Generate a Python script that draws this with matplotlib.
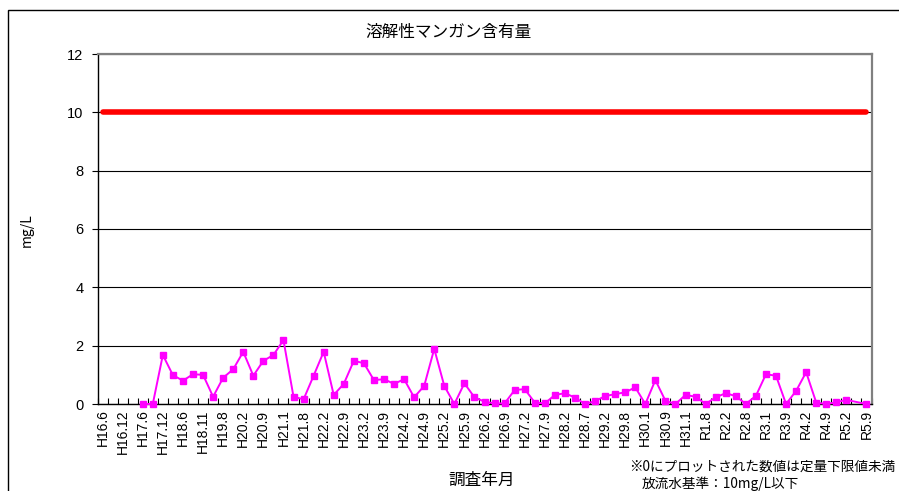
import numpy as np
import matplotlib
matplotlib.use("Agg")
import matplotlib.pyplot as plt
from matplotlib.patches import Rectangle

title = "溶解性マンガン含有量"
ylabel = "mg/L"
xlabel = "調査年月"
note1 = "※0にプロットされた数値は定量下限値未満"
note2 = "放流水基準：10mg/L以下"

# labels shown on every second category
tick_labels = ["H16.6", "H16.12", "H17.6", "H17.12", "H18.6", "H18.11", "H19.8",
               "H20.2", "H20.9", "H21.1", "H21.8", "H22.2", "H22.9", "H23.2",
               "H23.9", "H24.2", "H24.9", "H25.2", "H25.9", "H26.2", "H26.9",
               "H27.2", "H27.9", "H28.2", "H28.7", "H29.2", "H29.8", "H30.1",
               "H30.9", "H31.1", "R1.8", "R2.2", "R2.8", "R3.1", "R3.9", "R4.2",
               "R4.9", "R5.2", "R5.9"]
n_categories = 77

nan = np.nan
manganese = [nan, nan, nan, nan, 0.0, 0.0, 1.68, 0.99, 0.80, 1.02,
             1.00, 0.25, 0.90, 1.19, 1.79, 0.97, 1.48, 1.68, 2.19, 0.25,
             0.16, 0.97, 1.79, 0.31, 0.69, 1.48, 1.40, 0.82, 0.85, 0.69,
             0.85, 0.23, 0.62, 1.89, 0.62, 0.0, 0.71, 0.23, 0.08, 0.02,
             0.02, 0.48, 0.51, 0.05, 0.02, 0.31, 0.37, 0.22, 0.0, 0.10,
             0.27, 0.34, 0.40, 0.57, 0.0, 0.82, 0.11, 0.0, 0.31, 0.25,
             0.0, 0.23, 0.37, 0.27, 0.0, 0.28, 1.02, 0.97, 0.0, 0.45,
             1.09, 0.05, 0.0, 0.06, 0.14, nan, 0.0]
standard = [10.0] * n_categories

plt.rcParams['font.family'] = ['Liberation Sans Narrow', 'Liberation Sans', 'Noto Sans CJK JP']
jp = ['Noto Sans CJK JP', 'DejaVu Sans']

fig = plt.figure(figsize=(8.99, 4.91), dpi=100)
ax = fig.add_axes([97.5/899, 1-404/491, (871.5-97.5)/899, (404-54)/491])

x = np.arange(n_categories)
ax.plot(x, standard, color='#FF0000', lw=4, solid_capstyle='round', zorder=3)

m = np.array(manganese, dtype=float)
valid = ~np.isnan(m)
ax.plot(x[valid], m[valid], color='#FF00FF', lw=1.4, marker='s', ms=4.8,
        markeredgecolor='#FF00FF', markerfacecolor='#FF00FF', zorder=4, clip_on=False)

ax.set_xlim(-0.5, n_categories - 0.5)
ax.set_ylim(0, 12)
ax.set_yticks(np.arange(0, 13, 2))
ax.yaxis.grid(True, color='black', lw=0.8)
ax.set_axisbelow(True)

ax.set_xticks(x[::2])
ax.set_xticklabels(tick_labels, rotation=90, fontsize=10)
ax.set_xticks(np.arange(-0.5, n_categories, 1), minor=True)
ax.tick_params(axis='x', which='major', length=0, pad=4)
ax.tick_params(axis='x', which='minor', direction='in', length=4, width=0.8)
ax.tick_params(axis='y', length=4, width=0.8, labelsize=10.5, pad=6)

for s in ['left', 'bottom']:
    ax.spines[s].set_color('black')
    ax.spines[s].set_linewidth(1.0)
for s in ['top', 'right']:
    ax.spines[s].set_color('#808080')
    ax.spines[s].set_linewidth(1.6)

fig.text(449/899, 1-32/491, title, ha='center', va='center', fontsize=12, family=jp)
fig.text(27/899, 1-230/491, ylabel, ha='center', va='center', rotation=90, fontsize=10, family=jp)
fig.text(482/899, 1-480/491, xlabel, ha='center', va='center', fontsize=12, family=jp)
fig.text(629/899, 1-467/491, note1, ha='left', va='center', fontsize=9.8, family=jp)
fig.text(642/899, 1-484/491, note2, ha='left', va='center', fontsize=9.8, family=jp)

fig.patches.append(Rectangle((8/899, -0.2), 1.2, 1.2 - 10/491 , transform=fig.transFigure,
                             fill=False, edgecolor='black', lw=1.0))

fig.savefig('out.png', dpi=100)
